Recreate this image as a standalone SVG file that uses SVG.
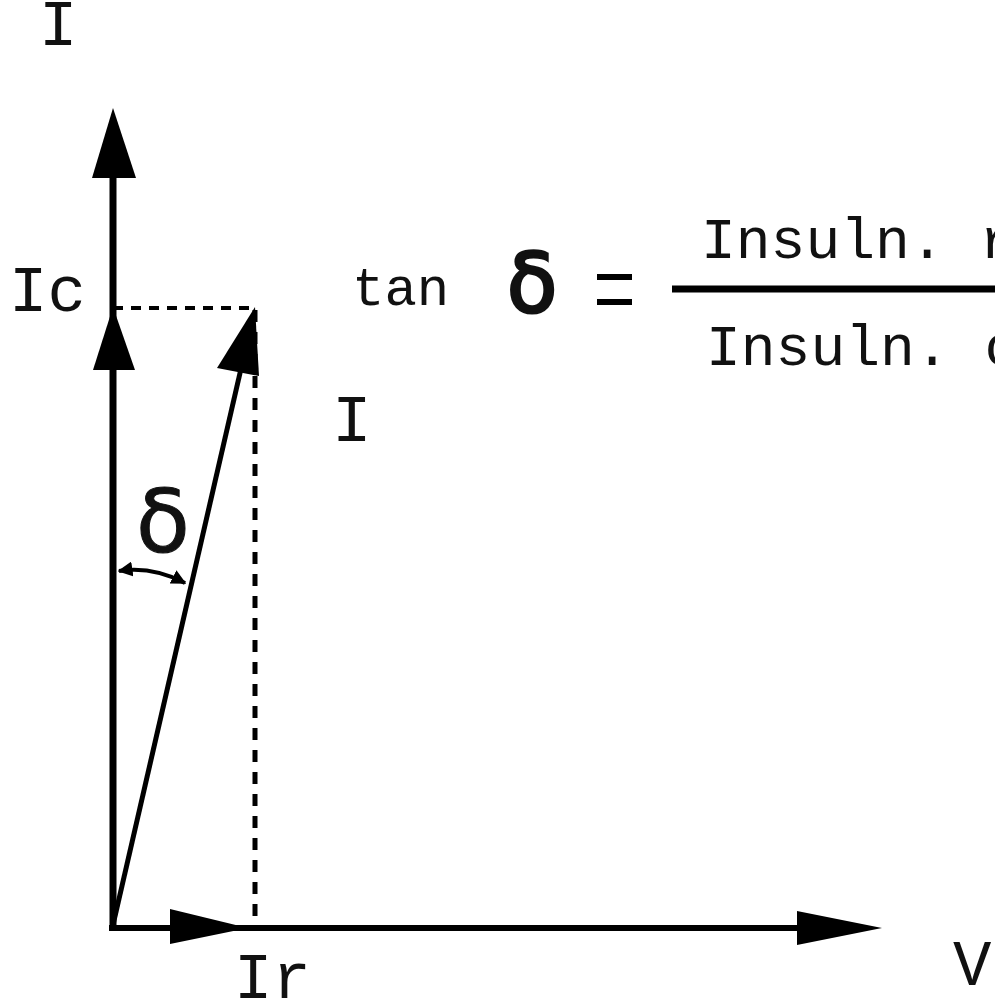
<svg xmlns="http://www.w3.org/2000/svg" width="995" height="1004" viewBox="0 0 995 1004">
<defs>
<style>
.lbl{font-family:"Liberation Mono","Courier New",monospace;fill:#111;}
.ln{stroke:#000;fill:none;}
.ah{fill:#000;stroke:none;}
</style>
<marker id="sm" viewBox="0 0 10 10" refX="9" refY="5" markerWidth="15" markerHeight="15" markerUnits="userSpaceOnUse" orient="auto-start-reverse">
<path d="M0,0 L10,5 L0,10 z" fill="#000"/>
</marker>
</defs>
<rect width="995" height="1004" fill="#fff"/>
<g id="connectors">
<line class="ln" x1="113" y1="931" x2="113" y2="175" stroke-width="7"/>
<polygon class="ah" points="113,108 92,178 136,178"/>
<polygon class="ah" points="113,307 93,370 135,370"/>
<line class="ln" x1="109" y1="928" x2="800" y2="928" stroke-width="6"/>
<polygon class="ah" points="882,928 797,911 797,945"/>
<polygon class="ah" points="248,928 170,909 170,944"/>
<line class="ln" x1="113" y1="925" x2="243" y2="360" stroke-width="5"/>
<polygon class="ah" points="255,307 217,368 259,376"/>
<line class="ln" x1="113" y1="308" x2="255" y2="308" stroke-width="4" stroke-dasharray="10 8"/>
<line class="ln" x1="255" y1="310" x2="255" y2="926" stroke-width="5" stroke-dasharray="12 10"/>
<path class="ln" d="M119,571 Q152,566 185,583" stroke-width="4" marker-start="url(#sm)" marker-end="url(#sm)"/>
</g>
<g id="label-I-axis"><text class="lbl" x="39" y="45" font-size="64">I</text></g>
<g id="label-Ic"><text class="lbl" x="9" y="311" font-size="64">Ic</text></g>
<g id="label-I"><text class="lbl" x="332" y="441" font-size="66">I</text></g>
<g id="label-Ir"><text class="lbl" x="234" y="998" font-size="64">Ir</text></g>
<g id="label-V"><text class="lbl" x="953" y="985" font-size="64">V</text></g>
<g id="label-delta-angle"><text x="136" y="552" font-family="DejaVu Sans, sans-serif" font-size="88" fill="#111" stroke="#111" stroke-width="1">δ</text></g>
<g id="formula">
<text class="lbl" x="352" y="305" font-size="54">tan</text>
<text x="507" y="312" font-family="DejaVu Sans, sans-serif" font-size="82" fill="#111" stroke="#111" stroke-width="3">δ</text>
<rect x="597" y="274" width="35" height="6" fill="#000"/>
<rect x="597" y="299" width="35" height="6" fill="#000"/>
<line class="ln" x1="672" y1="289" x2="995" y2="289" stroke-width="7"/>
<text class="lbl" x="701" y="258" font-size="58">Insuln. r</text>
<text class="lbl" x="706" y="365" font-size="58">Insuln. c</text>
</g>
</svg>
